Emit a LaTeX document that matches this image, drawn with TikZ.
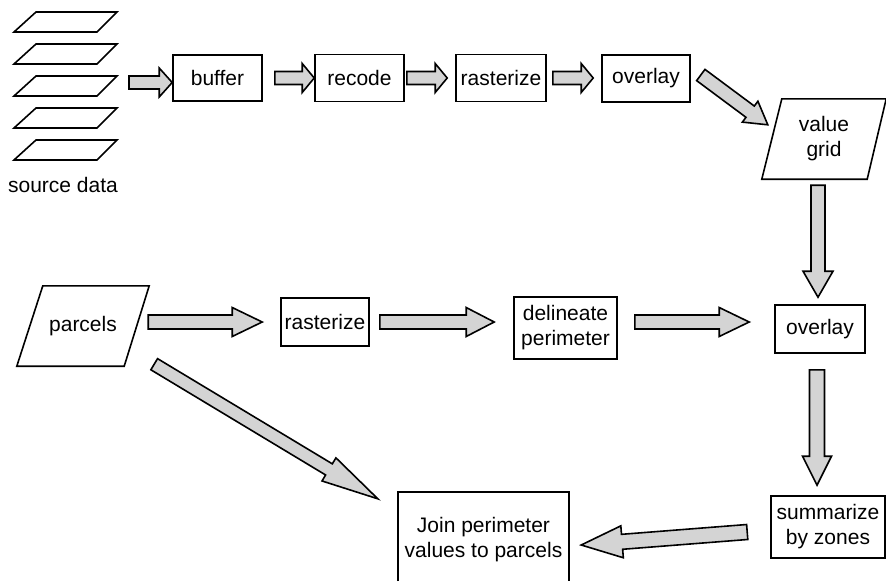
\documentclass[tikz,border=0pt]{standalone}
\usepackage{fontspec}
\setmainfont{Liberation Sans}
\usetikzlibrary{calc}
\definecolor{arrowfill}{RGB}{212,212,212}
\tikzset{
  boxline/.style={line width=1.6pt, draw=black},
  procbox/.style={boxline, rectangle, inner sep=0pt, align=center,
     font=\fontsize{21}{25}\selectfont},
  txt/.style={inner sep=0pt, align=center, font=\fontsize{21}{25}\selectfont},
  fatarrowstyle/.style={line width=1.6pt, draw=black, fill=arrowfill, line join=miter},
}
\newcommand{\fatarrow}[5]{%
  \coordinate (FAs) at (#1);
  \coordinate (FAe) at (#2);
  \coordinate (FAh) at ($(FAe)!#5!(FAs)$);
  \draw[fatarrowstyle] ($(FAs)!#3!90:(FAe)$) -- ($(FAh)!#3!90:(FAe)$) -- ($(FAh)!#4!90:(FAe)$)
    -- (FAe) -- ($(FAh)!#4!-90:(FAe)$) -- ($(FAh)!#3!-90:(FAe)$) -- ($(FAs)!#3!-90:(FAe)$) -- cycle;
}
\begin{document}
\begin{tikzpicture}[x=1pt,y=-1pt]
\useasboundingbox (0,0) rectangle (886,581);
\coordinate (bottom) at (0,581);

% source data stack
\foreach \k in {0,1,2,3,4}{
  \draw[boxline] (14,32+32*\k) -- (97,32+32*\k) -- (117,12+32*\k) -- (36,12+32*\k) -- cycle;
}
\node[txt] (src) at (63,185) {source data};
\coordinate (srcR) at (129,82.5);

% top row
\node[procbox, minimum width=89pt, minimum height=46pt] (buffer) at (217.5,78) {buffer};
\node[procbox, minimum width=89pt, minimum height=47pt] (recode) at (359.5,78) {recode};
\node[procbox, minimum width=90pt, minimum height=47pt] (rast1) at (501,78) {rasterize};
\node[procbox, minimum width=88pt, minimum height=47pt] (ovl1) at (646,78.5) {overlay};

% value grid
\node[txt, minimum width=124pt, minimum height=80pt] (vg) at (824,139) {value\\grid};
\draw[boxline] (vg.south west) -- ([xshift=-19pt]vg.south east) -- (vg.north east)
   -- ([xshift=20pt]vg.north west) -- cycle;

% parcels
\node[txt, minimum width=132pt, minimum height=80pt] (pc) at (83,326) {parcels};
\draw[boxline] (pc.south west) -- ([xshift=-25pt]pc.south east) -- (pc.north east)
   -- ([xshift=26pt]pc.north west) -- cycle;

% lower row
\node[procbox, minimum width=88pt, minimum height=48pt] (rast2) at (325,322) {rasterize};
\node[procbox, minimum width=103pt, minimum height=62pt] (del) at (565.5,328) {delineate\\perimeter};
\node[procbox, minimum width=90pt, minimum height=48pt] (ovl2) at (820,329) {overlay};
\node[procbox, minimum width=114pt, minimum height=62pt] (sum) at (828,527) {summarize\\by zones};
\node[txt, minimum width=171pt, minimum height=96pt] (join) at (483.5,540) {Join perimeter\\values to parcels};
\draw[boxline] (join.north west |- bottom) -- (join.north west) -- (join.north east) -- (join.north east |- bottom);

% arrows
\fatarrow{srcR}{[yshift=-4.5pt]buffer.west}{6.5pt}{14.5pt}{13pt}
\fatarrow{[xshift=12pt]buffer.east}{recode.west}{6.5pt}{14.5pt}{12pt}
\fatarrow{[xshift=2pt]recode.east}{[xshift=-8pt]rast1.west}{6.5pt}{14.5pt}{12pt}
\fatarrow{[xshift=6pt]rast1.east}{[xshift=-8pt,yshift=0.5pt]ovl1.west}{6.5pt}{14.5pt}{12pt}
\fatarrow{[xshift=10pt,yshift=3.5pt]ovl1.east}{[xshift=6pt,yshift=-26pt]vg.north west}{7pt}{13pt}{22pt}
\fatarrow{[xshift=-6pt,yshift=-6pt]vg.south}{[xshift=-2pt,yshift=7pt]ovl2.north}{7pt}{15pt}{26pt}
\fatarrow{[xshift=-1pt,yshift=4pt]pc.east}{[xshift=-18pt]rast2.west}{7pt}{14.5pt}{30pt}
\fatarrow{[xshift=10pt]rast2.east}{[xshift=-19pt,yshift=6pt]del.west}{7pt}{14.5pt}{28pt}
\fatarrow{[xshift=17pt,yshift=6pt]del.east}{[xshift=-25pt,yshift=7pt]ovl2.west}{7pt}{14.5pt}{30pt}
\fatarrow{[xshift=-3pt,yshift=-16pt]ovl2.south}{[xshift=-11pt,yshift=10pt]sum.north}{7.5pt}{14.5pt}{29pt}
\fatarrow{[xshift=-23pt,yshift=-5pt]sum.west}{[xshift=12pt,yshift=-5pt]join.east}{7.5pt}{16pt}{41pt}
\fatarrow{[xshift=5pt,yshift=2pt]pc.south east}{[xshift=-20pt,yshift=-7pt]join.north west}{6.5pt}{13.5pt}{57pt}
\end{tikzpicture}
\end{document}
